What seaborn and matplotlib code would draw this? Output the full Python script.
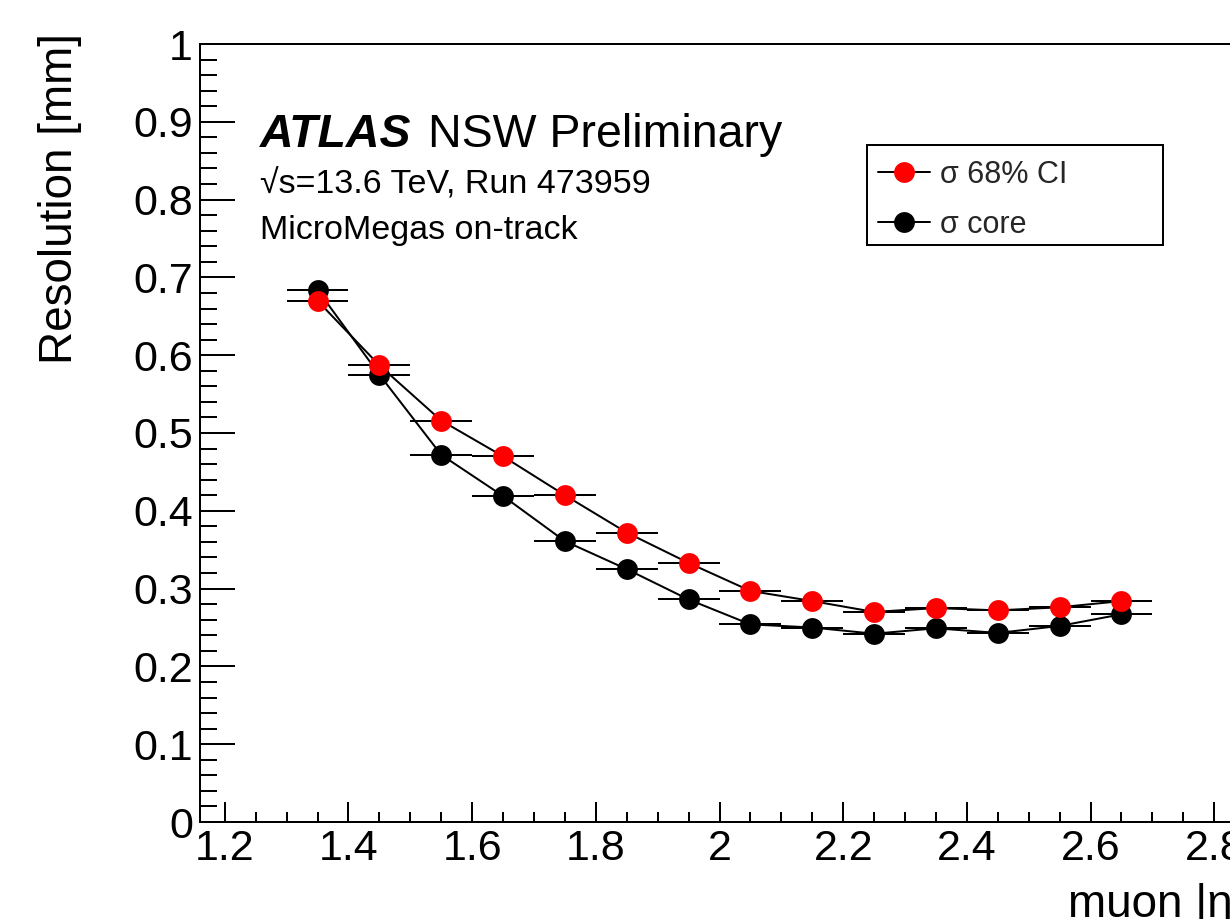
import numpy as np
import pandas as pd
import matplotlib
matplotlib.use("Agg")
import matplotlib.pyplot as plt
from matplotlib.lines import Line2D
from matplotlib.patches import Rectangle
from matplotlib.ticker import MultipleLocator, FixedLocator, FixedFormatter
import seaborn as sns

# |eta| bin centres and half-widths
eta = [1.35, 1.45, 1.55, 1.65, 1.75, 1.85, 1.95, 2.05, 2.15, 2.25, 2.35, 2.45, 2.55, 2.65]
eta_halfwidth = [0.05] * len(eta)

# resolution [mm]
sigma_68ci = [0.670, 0.587, 0.516, 0.470, 0.420, 0.372, 0.333, 0.297,
              0.284, 0.270, 0.275, 0.272, 0.276, 0.284]
sigma_core = [0.684, 0.575, 0.472, 0.419, 0.361, 0.325, 0.286, 0.254,
              0.250, 0.242, 0.249, 0.243, 0.252, 0.267]

series_names = ["σ 68% CI", "σ core"]
series_colors = ["#ff0000", "#000000"]

x_ticks = [1.2, 1.4, 1.6, 1.8, 2.0, 2.2, 2.4, 2.6, 2.8]
x_ticklabels = ["1.2", "1.4", "1.6", "1.8", "2", "2.2", "2.4", "2.6", "2.8"]
y_ticks = [0.0, 0.1, 0.2, 0.3, 0.4, 0.5, 0.6, 0.7, 0.8, 0.9, 1.0]
y_ticklabels = ["0", "0.1", "0.2", "0.3", "0.4", "0.5", "0.6", "0.7", "0.8", "0.9", "1"]

sns.set_theme(style="ticks")
plt.rcParams["font.family"] = ["Liberation Sans", "DejaVu Sans"]

W, H = 1230, 919
fig = plt.figure(figsize=(W / 100, H / 100), dpi=100)
ax = fig.add_axes([200 / W, 97 / H, 1039 / W, 778 / H])

LW = 1.44
MS = 15

df = pd.DataFrame({
    "eta": eta * 2,
    "xerr": eta_halfwidth * 2,
    "res": sigma_core + sigma_68ci,
    "series": [series_names[1]] * len(eta) + [series_names[0]] * len(eta),
})

# core first, 68% CI drawn on top
for k, (name, col) in enumerate([(series_names[1], series_colors[1]),
                                 (series_names[0], series_colors[0])]):
    sub = df[df["series"] == name]
    base = 3 + 3 * k
    sns.lineplot(data=sub, x="eta", y="res", color="black", linewidth=LW,
                 ax=ax, zorder=base, legend=False, sort=False)
    ax.errorbar(sub["eta"], sub["res"], xerr=sub["xerr"], fmt="none",
                ecolor="black", elinewidth=LW, capsize=0, zorder=base + 1)
    sns.scatterplot(data=sub, x="eta", y="res", color=col, s=MS ** 2,
                    linewidth=0, ax=ax, zorder=base + 2, legend=False)

ax.set_xlim(1.16, 2.84)
ax.set_ylim(0, 1)
ax.set_xlabel("")
ax.set_ylabel("")

ax.xaxis.set_major_locator(FixedLocator(x_ticks))
ax.xaxis.set_major_formatter(FixedFormatter(x_ticklabels))
ax.xaxis.set_minor_locator(MultipleLocator(0.05))
ax.yaxis.set_major_locator(FixedLocator(y_ticks))
ax.yaxis.set_major_formatter(FixedFormatter(y_ticklabels))
ax.yaxis.set_minor_locator(MultipleLocator(0.02))

ax.tick_params(axis="both", which="both", direction="in", width=LW,
               color="black", labelsize=31, pad=5, labelcolor="black")
ax.tick_params(axis="x", which="major", length=14.4)
ax.tick_params(axis="x", which="minor", length=7.2)
ax.tick_params(axis="y", which="major", length=25)
ax.tick_params(axis="y", which="minor", length=12.2)
for s in ax.spines.values():
    s.set_linewidth(LW)
    s.set_color("black")

# axis titles
fig.text(60 / W, 1 - 33 / H, "Resolution [mm]", rotation=90, ha="center",
         va="top", fontsize=33, color="black")
fig.text(1245 / W, 1 - 917 / H, "muon |η|", ha="right", va="baseline",
         fontsize=33, color="black")

# labels
fig.text(260 / W, 1 - 147 / H, "ATLAS", fontsize=33.5, fontweight="bold",
         fontstyle="italic", ha="left", va="baseline", color="black")
fig.text(428 / W, 1 - 147 / H, "NSW Preliminary", fontsize=33.5,
         ha="left", va="baseline", color="black")
fig.text(260 / W, 1 - 193 / H, "√s=13.6 TeV, Run 473959", fontsize=24.5,
         ha="left", va="baseline", color="black")
fig.text(260 / W, 1 - 239 / H, "MicroMegas on-track", fontsize=24.5,
         ha="left", va="baseline", color="black")

# legend
handles = [Line2D([], [], color="black", lw=LW, marker="o", markersize=MS,
                  markerfacecolor=c, markeredgewidth=0) for c in series_colors]
ax.legend(handles, series_names, loc="upper left",
          bbox_to_anchor=(878 / W, 1 - 160 / H), bbox_transform=fig.transFigure,
          frameon=False, fontsize=22, borderpad=0, borderaxespad=0,
          handlelength=1.7, handletextpad=0.33, labelspacing=0.66)
fig.add_artist(Rectangle((867 / W, 1 - 245 / H), 296 / W, 100 / H,
                         transform=fig.transFigure, fill=False,
                         edgecolor="black", linewidth=LW))

fig.savefig("out.png", dpi=100)
